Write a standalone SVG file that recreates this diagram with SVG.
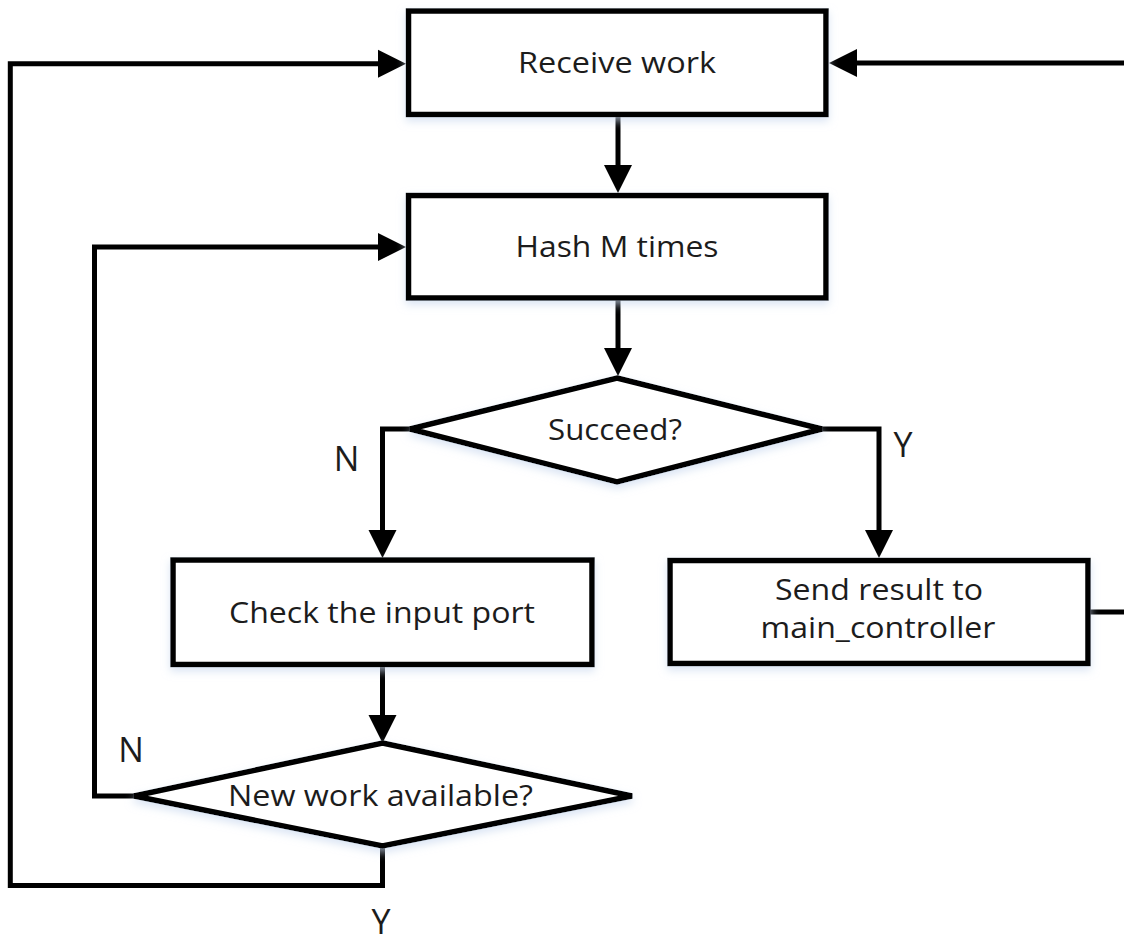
<svg xmlns="http://www.w3.org/2000/svg" width="1124" height="947" viewBox="0 0 1124 947">
  <defs>
    <style>
      .box { fill: #ffffff; stroke: #000000; stroke-width: 5.5; filter: url(#glow); }
      .link { fill: none; stroke: #000000; stroke-width: 5; stroke-linejoin: miter; stroke-linecap: butt; }
      .head { fill: #000000; stroke: none; }
      .lbl { font-family: "Open Sans", "Noto Sans", "Liberation Sans", sans-serif; font-size: 30px; fill: #1c1c1c; text-anchor: middle; }
      .lbl2 { font-family: "Open Sans", "Noto Sans", "Liberation Sans", sans-serif; font-size: 29px; fill: #1c1c1c; text-anchor: middle; }
      .yn { font-family: "Open Sans", "Noto Sans", "Liberation Sans", sans-serif; font-size: 34px; fill: #1c1c1c; text-anchor: middle; }
    </style>
    <filter id="glow" x="-10%" y="-20%" width="120%" height="150%">
      <feDropShadow dx="0" dy="4" stdDeviation="4" flood-color="#c9d9ef" flood-opacity="0.7"/>
    </filter>
  </defs>

  <rect width="1124" height="947" fill="#ffffff"/>

  <!-- connectors -->
  <g id="connectors">
    <!-- Receive work -> Hash M times -->
    <path class="link" d="M618 114 V170"/>
    <polygon class="head" points="604,165 632,165 618,193"/>
    <!-- Hash M times -> Succeed? -->
    <path class="link" d="M618 298 V352"/>
    <polygon class="head" points="604,348 632,348 618,376"/>
    <!-- Succeed? N -> Check the input port -->
    <path class="link" d="M410 429 H382.5 V535"/>
    <polygon class="head" points="368.5,530 396.5,530 382.5,558"/>
    <!-- Succeed? Y -> Send result -->
    <path class="link" d="M822 429 H879 V535"/>
    <polygon class="head" points="865,530 893,530 879,558"/>
    <!-- Check the input port -> New work available? -->
    <path class="link" d="M382.5 664 V720"/>
    <polygon class="head" points="368.5,715 396.5,715 382.5,743"/>
    <!-- New work available? N -> Hash M times -->
    <path class="link" d="M135 796 H94.5 V247 H383"/>
    <polygon class="head" points="378,233 378,261 406,247"/>
    <!-- New work available? Y -> Receive work -->
    <path class="link" d="M382.5 846 V885.5 H10.3 V63.8 H383"/>
    <polygon class="head" points="378,49.8 378,77.8 406,63.8"/>
    <!-- Send result -> back round to Receive work -->
    <path class="link" d="M1088 612 H1130"/>
    <path class="link" d="M1130 63 H852"/>
    <polygon class="head" points="857,49 857,77 829,63"/>
  </g>

  <g id="receive-work">
    <rect class="box" x="408.5" y="11" width="417.5" height="103.5"/>
    <text class="lbl" x="617" y="73" textLength="198" lengthAdjust="spacingAndGlyphs">Receive work</text>
  </g>

  <g id="hash-m-times">
    <rect class="box" x="408.5" y="195.5" width="417.5" height="102.5"/>
    <text class="lbl" x="617" y="257" textLength="203" lengthAdjust="spacingAndGlyphs">Hash M times</text>
  </g>

  <g id="succeed">
    <polygon class="box" points="617,378 822,429 617,482 410,429"/>
    <text class="lbl" x="615" y="440" textLength="134" lengthAdjust="spacingAndGlyphs">Succeed?</text>
  </g>

  <g id="check-input-port">
    <rect class="box" x="173" y="560" width="419" height="104.5"/>
    <text class="lbl" x="382" y="623" textLength="306" lengthAdjust="spacingAndGlyphs">Check the input port</text>
  </g>

  <g id="send-result">
    <rect class="box" x="670" y="560.5" width="418" height="103"/>
    <text class="lbl2" x="879" y="600" textLength="208" lengthAdjust="spacingAndGlyphs">Send result to</text>
    <text class="lbl2" x="878" y="638" textLength="235" lengthAdjust="spacingAndGlyphs">main_controller</text>
  </g>

  <g id="new-work-available">
    <polygon class="box" points="382.5,743 632,796 382.5,846 134,796"/>
    <text class="lbl" x="380.5" y="806" textLength="305" lengthAdjust="spacingAndGlyphs">New work available?</text>
  </g>

  <!-- branch labels -->
  <g id="branch-labels">
    <text class="yn" x="346.5" y="471">N</text>
    <text class="yn" x="903" y="457">Y</text>
    <text class="yn" x="131" y="762">N</text>
    <text class="yn" x="381" y="934">Y</text>
  </g>
</svg>
